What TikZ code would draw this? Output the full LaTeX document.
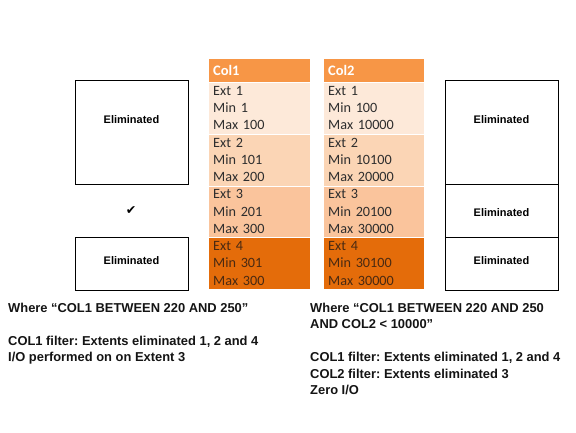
\documentclass[tikz,border=0pt]{standalone}
\usepackage{fontspec}
\setmainfont{Liberation Sans}
\newfontfamily\calib{Carlito}
\newfontfamily\symb{DejaVu Sans}
\frenchspacing
\definecolor{hdrc}{HTML}{F79646}
\definecolor{rowa}{HTML}{FDE9D9}
\definecolor{rowb}{HTML}{FBD5B5}
\definecolor{rowc}{HTML}{FAC49C}
\definecolor{rowd}{HTML}{E46C0A}
\definecolor{celltxt}{HTML}{2E2E2E}
\definecolor{darktxt}{HTML}{4A2A12}
\definecolor{bodytxt}{HTML}{141414}
\tikzset{
  hdrcell/.style={anchor=north west, fill=hdrc, draw=white, line width=0.4pt,
    minimum width=102, minimum height=24, text width=92, inner xsep=5, inner ysep=0,
    align=left, text=white, font=\calib\bfseries\fontsize{14.5}{17}\selectfont},
  cell/.style={anchor=north west, draw=white, line width=0.4pt,
    minimum width=102, minimum height=51.75, text width=92, inner xsep=5, inner ysep=0,
    align=left, text=celltxt, font=\calib\fontsize{14.2}{17.2}\selectfont},
  elimbox/.style={draw=black, line width=1.2pt, minimum width=113, inner sep=0, anchor=north west},
  elimtxt/.style={font=\bfseries\fontsize{11}{13}\selectfont, inner sep=0},
  bodytext/.style={anchor=north west, inner sep=0, align=left, text=bodytxt,
    font=\bfseries\fontsize{12.9}{16.5}\selectfont}
}
\begin{document}
\begin{tikzpicture}[x=1pt,y=-1pt]
\useasboundingbox[fill=white] (0,0) rectangle (576,432);

% Column 1
\node[hdrcell] (h1) at (208,58) {Col1};
\node[cell, fill=rowa] (a1) at (208,82) {Ext 1\\Min 1\\Max 100};
\node[cell, fill=rowb] (a2) at (208,133.75) {Ext 2\\Min 101\\Max 200};
\node[cell, fill=rowc] (a3) at (208,185.5) {Ext 3\\Min 201\\Max 300};
\node[cell, fill=rowd, text=darktxt] (a4) at (208,237.25) {Ext 4\\Min 301\\Max 300};

% Column 2
\node[hdrcell, minimum width=101, text width=91] (h2) at (323,58) {Col2};
\node[cell, fill=rowa, minimum width=101, text width=91] (b1) at (323,82) {Ext 1\\Min 100\\Max 10000};
\node[cell, fill=rowb, minimum width=101, text width=91] (b2) at (323,133.75) {Ext 2\\Min 10100\\Max 20000};
\node[cell, fill=rowc, minimum width=101, text width=91] (b3) at (323,185.5) {Ext 3\\Min 20100\\Max 30000};
\node[cell, fill=rowd, text=darktxt, minimum width=101, text width=91] (b4) at (323,237.25) {Ext 4\\Min 30100\\Max 30000};

% Left boxes
\node[elimbox, minimum height=104] (L1) at (75,80) {};
\node[elimtxt] (L1t) at (131.5,120) {Eliminated};
\node[font=\symb\fontsize{12.5}{14}\selectfont, inner sep=0] (chk) at (131,211) {✔};
\node[elimbox, minimum height=53] (L2) at (75,237) {};
\node[elimtxt] (L2t) at (131.5,261) {Eliminated};

% Right boxes
\node[elimbox, minimum height=104] (R1) at (445,80) {};
\node[elimtxt] (R1t) at (501.5,120) {Eliminated};
\node[elimbox, minimum height=53] (R2) at (445,184) {};
\node[elimtxt] (R2t) at (501.5,213) {Eliminated};
\node[elimbox, minimum height=53] (R3) at (445,237) {};
\node[elimtxt] (R3t) at (501.5,261) {Eliminated};

% Texts
\node[bodytext] (txl) at (8,302.5) {Where “COL1 BETWEEN 220 AND 250”\\[16.5pt]COL1 filter: Extents eliminated 1, 2 and 4\\I/O performed on on Extent 3};
\node[bodytext] (txr) at (310,302.5) {Where “COL1 BETWEEN 220 AND 250\\AND COL2 < 10000”\\[16.5pt]COL1 filter: Extents eliminated 1, 2 and 4\\COL2 filter: Extents eliminated 3\\Zero I/O};
\end{tikzpicture}
\end{document}
